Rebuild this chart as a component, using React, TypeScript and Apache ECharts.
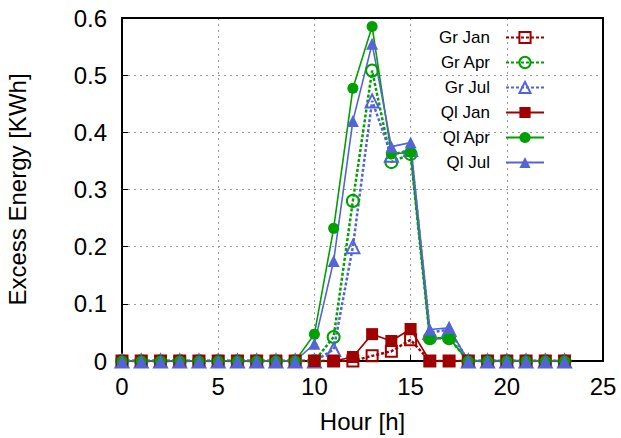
import React, { useEffect, useRef } from "react";
import * as echarts from "echarts";

const hours = Array.from({ length: 24 }, (_, i) => i);
const grJan = [0, 0, 0, 0, 0, 0, 0, 0, 0, 0, 0, 0, 0, 0.009, 0.017, 0.037, 0, 0, 0, 0, 0, 0, 0, 0];
const grApr = [0, 0, 0, 0, 0, 0, 0, 0, 0, 0, 0, 0.042, 0.28, 0.508, 0.348, 0.362, 0.04, 0.04, 0, 0, 0, 0, 0, 0];
const grJul = [0, 0, 0, 0, 0, 0, 0, 0, 0, 0, 0, 0.02, 0.2, 0.455, 0.36, 0.37, 0.05, 0.055, 0, 0, 0, 0, 0, 0];
const qlJan = [0, 0, 0, 0, 0, 0, 0, 0, 0, 0, 0, 0, 0.007, 0.047, 0.035, 0.056, 0, 0, 0, 0, 0, 0, 0, 0];
const qlApr = [0, 0, 0, 0, 0, 0, 0, 0, 0, 0, 0.047, 0.232, 0.477, 0.585, 0.362, 0.365, 0.04, 0.04, 0, 0, 0, 0, 0, 0];
const qlJul = [0, 0, 0, 0, 0, 0, 0, 0, 0, 0, 0.03, 0.175, 0.42, 0.555, 0.375, 0.382, 0.055, 0.058, 0, 0, 0, 0, 0, 0];

const RED = "#a00000";
const GREEN = "#00a000";
const BLUE = "#5464d8";
const FONT = "Liberation Sans, Arial, Helvetica, sans-serif";

function mk(name: string, vals: number[], color: string, symbol: string, hollow: boolean, size: number) {
  return {
    name,
    type: "line",
    data: hours.map((h, i) => [h, vals[i]]),
    symbol,
    symbolSize: size,
    showAllSymbol: true,
    lineStyle: { color, width: hollow ? 2.5 : 1.6, type: hollow ? [3, 2] : "solid" },
    itemStyle: hollow
      ? { color: "rgba(0,0,0,0)", borderColor: color, borderWidth: 2 }
      : { color, borderColor: color, borderWidth: 0 },
    emphasis: { disabled: true },
    z: 3,
  };
}

export default function App() {
  const ref = useRef<HTMLDivElement>(null);
  useEffect(() => {
    if (!ref.current) return;
    const chart = echarts.init(ref.current, undefined, { renderer: "svg" });
    chart.setOption({
      animation: false,
      textStyle: { fontFamily: FONT },
      grid: {
        left: 122,
        right: 18,
        top: 18,
        bottom: 77,
        outerBoundsMode: "none",
        containLabel: false,
        show: true,
        borderColor: "#000",
        borderWidth: 2,
        backgroundColor: "transparent",
        z: 2,
      },
      legend: {
        orient: "vertical",
        align: "right",
        right: 71,
        top: 24,
        itemWidth: 38,
        itemHeight: 14,
        itemGap: 8,
        textStyle: { fontSize: 17, color: "#000", fontFamily: FONT, padding: [0, 11, 0, 0] },
        data: ["Gr Jan", "Gr Apr", "Gr Jul", "Ql Jan", "Ql Apr", "Ql Jul"],
      },
      xAxis: {
        type: "value",
        min: 0,
        max: 25,
        interval: 5,
        name: "Hour [h]",
        nameLocation: "middle",
        nameGap: 48,
        nameTextStyle: { fontSize: 24, color: "#000", fontFamily: FONT },
        axisLine: { show: true, onZero: false, lineStyle: { color: "#000", width: 2 } },
        axisTick: { show: true, inside: true, length: 6, lineStyle: { color: "#000", width: 1 } },
        axisLabel: { fontSize: 24, color: "#000", margin: 13, fontFamily: FONT },
        splitLine: { show: true, lineStyle: { color: "#999", type: [2, 4], width: 1 } },
      },
      yAxis: {
        type: "value",
        min: 0,
        max: 0.6,
        interval: 0.1,
        name: "Excess Energy [KWh]",
        nameLocation: "middle",
        nameGap: 93,
        nameRotate: 90,
        nameTextStyle: { fontSize: 24, color: "#000", fontFamily: FONT },
        axisLine: { show: true, lineStyle: { color: "#000", width: 2 } },
        axisTick: { show: true, inside: true, length: 6, lineStyle: { color: "#000", width: 1 } },
        axisLabel: { fontSize: 24, color: "#000", margin: 15, fontFamily: FONT },
        splitLine: { show: true, lineStyle: { color: "#999", type: [2, 4], width: 1 } },
      },
      series: [
        mk("Gr Jan", grJan, RED, "rect", true, 11),
        mk("Gr Apr", grApr, GREEN, "circle", true, 12),
        mk("Gr Jul", grJul, BLUE, "triangle", true, 13),
        mk("Ql Jan", qlJan, RED, "rect", false, 12),
        mk("Ql Apr", qlApr, GREEN, "circle", false, 11),
        mk("Ql Jul", qlJul, BLUE, "triangle", false, 12),
      ],
    });
    return () => chart.dispose();
  }, []);
  return <div ref={ref} style={{ width: 621, height: 438, position: "absolute", left: 0, top: 0 }} />;
}
